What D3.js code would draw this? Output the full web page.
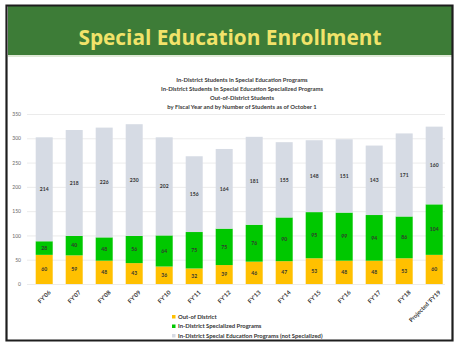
<!DOCTYPE html>
<html>
<head>
<meta charset="utf-8">
<script src="https://cdn.jsdelivr.net/npm/d3@7"></script>
<style>
  html, body { margin: 0; padding: 0; background: #ffffff; }
  svg { display: block; }
</style>
</head>
<body>
<svg id="chart" width="454" height="343"></svg>
<script>
// Fiscal years on the category axis
const years = ["FY'06", "FY'07", "FY'08", "FY'09", "FY'10", "FY'11", "FY'12",
               "FY'13", "FY'14", "FY'15", "FY'16", "FY'17", "FY'18", "Projected 'FY19"];

// Enrollment counts per series (students as of October 1)
const outOfDistrict = [60, 59, 48, 43, 36, 32, 39, 46, 47, 53, 48, 48, 53, 60];
const specialized   = [28, 40, 48, 56, 64, 75, 75, 76, 90, 95, 99, 94, 86, 104];
const notSpecialized = [214, 218, 226, 230, 202, 156, 164, 181, 155, 148, 151, 143, 171, 160];

const yTicks = [0, 50, 100, 150, 200, 250, 300, 350];

const seriesNames = ["Out-of District", "In-District Specialized Programs",
                     "In-District Special Education Programs (not Specialized)"];
const seriesColors = ["#ffc000", "#00c800", "#d6dbe4"];

const subtitleLines = [
  "In-District Students in Special Education Programs",
  "In-District Students In Special Education Specialized Programs",
  "Out-of-District Students",
  "by Fiscal Year and by Number of Students as of October 1"
];

const svg = d3.select("#chart");
const W = 454, H = 343;
const font = "Lato, 'Open Sans', 'DejaVu Sans', sans-serif";

// Slide frame and header band
svg.append("rect").attr("x", 0).attr("y", 0).attr("width", W).attr("height", H).attr("fill", "#ffffff");
svg.append("rect").attr("x", 8).attr("y", 6).attr("width", W - 10).attr("height", 49).attr("fill", "#3d7c37");
svg.append("rect").attr("x", 8).attr("y", 55).attr("width", W - 10).attr("height", 2).attr("fill", "#dfe9d6");
svg.append("path")
  .attr("d", `M6.5,${H - 2.5} L6.5,5.5 L${W - 1.5},5.5 L${W - 1.5},${H - 2.5} Z`)
  .attr("fill", "none").attr("stroke", "#1e1e1e").attr("stroke-width", 2.2);

svg.append("text")
  .attr("x", 230).attr("y", 45)
  .attr("text-anchor", "middle")
  .attr("font-family", "'Open Sans', Lato, sans-serif")
  .attr("font-weight", "bold")
  .attr("font-size", 20.8)
  .attr("fill", "#f1e36a")
  .text("Special Education Enrollment");

// Subtitle block
svg.append("g").selectAll("text").data(subtitleLines).join("text")
  .attr("x", 242).attr("y", (d, i) => 81.5 + i * 9.2)
  .attr("text-anchor", "middle")
  .attr("font-family", font).attr("font-weight", "bold")
  .attr("font-size", 5.9).attr("fill", "#3a3a3a")
  .text(d => d);

// Scales
const x = d3.scaleBand().domain(years).range([29.2, 449.2])
  .paddingInner(0.433).paddingOuter(0.2167);
const y = d3.scaleLinear().domain([0, 350]).range([284, 114]);

// Gridlines and y labels
const yAxis = d3.axisLeft(y).tickValues(yTicks).tickSize(-(445 - 27)).tickPadding(6);
const gy = svg.append("g").attr("transform", "translate(27,0)").call(yAxis);
gy.select(".domain").remove();
gy.selectAll(".tick line").attr("stroke", "#e6e6e6").attr("stroke-width", 0.8);
gy.selectAll(".tick text").attr("font-family", font).attr("font-size", 5)
  .attr("fill", "#666666");

// Stacked bars
const rows = years.map((yr, i) => ({
  year: yr, a: outOfDistrict[i], b: specialized[i], c: notSpecialized[i]
}));
const stack = d3.stack().keys(["a", "b", "c"])(rows);

const layers = svg.append("g").selectAll("g").data(stack).join("g")
  .attr("fill", (d, i) => seriesColors[i]);

layers.selectAll("rect").data(d => d).join("rect")
  .attr("x", d => x(d.data.year))
  .attr("width", x.bandwidth())
  .attr("y", d => y(d[1]))
  .attr("height", d => y(d[0]) - y(d[1]));

// Value labels centred in each segment
const labels = svg.append("g");
stack.forEach((layer) => {
  labels.selectAll(null).data(layer).join("text")
    .attr("x", d => x(d.data.year) + x.bandwidth() / 2)
    .attr("y", d => y((d[0] + d[1]) / 2) + 1.8)
    .attr("text-anchor", "middle")
    .attr("font-family", font).attr("font-weight", "bold")
    .attr("font-size", 5).attr("fill", "#333333")
    .text(d => d[1] - d[0]);
});

// Category axis labels, rotated
const xAxis = d3.axisBottom(x).tickSize(0).tickPadding(0);
const gx = svg.append("g").attr("transform", "translate(0,288)").call(xAxis);
gx.select(".domain").remove();
gx.selectAll(".tick text")
  .attr("font-family", font).attr("font-weight", "bold")
  .attr("font-size", 5.9).attr("fill", "#333333")
  .attr("text-anchor", "end")
  .attr("dy", "0.7em")
  .attr("transform", "translate(4,2) rotate(-45)");

// Legend
const legend = svg.append("g").attr("transform", "translate(172,318)");
const items = legend.selectAll("g").data(seriesNames).join("g")
  .attr("transform", (d, i) => `translate(0,${i * 9.5})`);
items.append("rect").attr("x", 0).attr("y", -3).attr("width", 3.5).attr("height", 3.5)
  .attr("fill", (d, i) => seriesColors[i]);
items.append("text").attr("x", 6).attr("y", 0.8)
  .attr("font-family", font).attr("font-weight", "bold")
  .attr("font-size", 5.9).attr("fill", "#333333")
  .text(d => d);
</script>
</body>
</html>
